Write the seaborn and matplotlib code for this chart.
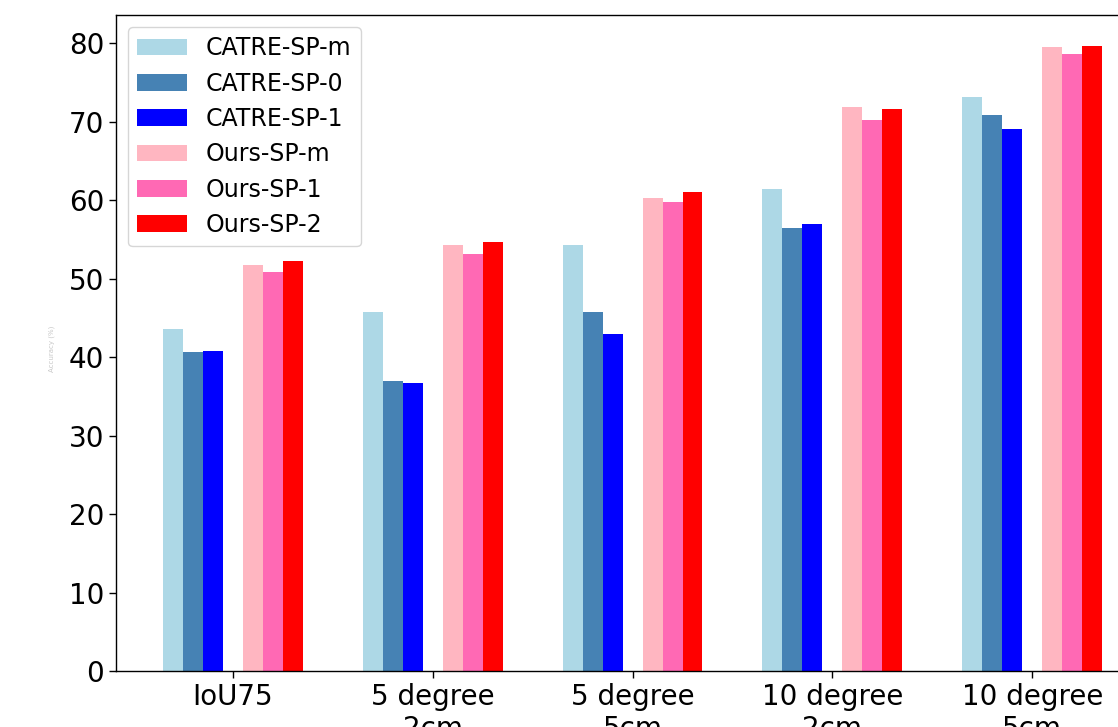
import numpy as np
import pandas as pd
import matplotlib
matplotlib.use("Agg")
import matplotlib.pyplot as plt
import seaborn as sns

# Metric groups along the x axis
metrics = ["IoU75", "5 degree\n2cm", "5 degree\n5cm", "10 degree\n2cm", "10 degree\n5cm"]

# Method names and their accuracy per metric
methods = ["CATRE-SP-m", "CATRE-SP-0", "CATRE-SP-1", "Ours-SP-m", "Ours-SP-1", "Ours-SP-2"]
catre_sp_m = [43.6, 45.8, 54.3, 61.4, 73.1]
catre_sp_0 = [40.6, 37.0, 45.8, 56.5, 70.8]
catre_sp_1 = [40.8, 36.7, 43.0, 57.0, 69.1]
ours_sp_m = [51.8, 54.3, 60.3, 71.9, 79.5]
ours_sp_1 = [50.9, 53.1, 59.8, 70.2, 78.6]
ours_sp_2 = [52.2, 54.7, 61.0, 71.6, 79.6]

colors = ["lightblue", "steelblue", "blue", "lightpink", "hotpink", "red"]

series = [catre_sp_m, catre_sp_0, catre_sp_1, ours_sp_m, ours_sp_1, ours_sp_2]
bar_w = 0.1
# CATRE bars on the left of each tick, ours on the right, one empty slot between
offsets = np.array([-3, -2, -1, 1, 2, 3]) * bar_w

rows = []
for name, vals, off in zip(methods, series, offsets):
    for i, v in enumerate(vals):
        rows.append({"pos": round(i + off, 3), "value": v, "method": name})
df = pd.DataFrame(rows)

sns.set_style("ticks")
plt.rcParams.update({
    "axes.edgecolor": "black",
    "xtick.color": "black",
    "ytick.color": "black",
    "text.color": "black",
    "axes.labelcolor": "black",
    "axes.linewidth": 1.0,
    "font.family": ["DejaVu Sans"],
})

fig = plt.figure(figsize=(11.18, 7.27), dpi=100)
ax = fig.add_axes([0.1038, 0.0770, 0.924, 0.9024])

sns.barplot(
    data=df, x="pos", y="value", hue="method", hue_order=methods,
    palette=dict(zip(methods, colors)), native_scale=True, dodge=False,
    width=1.0, saturation=1, linewidth=0, errorbar=None, ax=ax,
)

ax.set_xticks(range(len(metrics)))
ax.set_xticklabels(metrics, fontsize=20)
ax.tick_params(axis="y", labelsize=20)
ax.tick_params(axis="both", length=5, width=1)
ax.set_xlim(-0.585, 4.585)
ax.set_ylim(0, 83.6)
ax.set_yticks(range(0, 81, 10))
ax.set_xlabel("")
ax.set_ylabel("")

fig.text(52 / 1118, 0.52, "Accuracy (%)", rotation=90, fontsize=5,
         color="#c8c8c8", ha="center", va="center")

handles, labels = ax.get_legend_handles_labels()
leg = ax.legend(handles, labels, loc="upper left", fontsize=17, frameon=True,
                fancybox=True, framealpha=0.8, edgecolor="0.8",
                handlelength=2.1, handleheight=0.72, borderpad=0.4,
                labelspacing=0.48, handletextpad=0.8)
for t in leg.get_texts():
    t.set_color("black")

fig.savefig("out.png", dpi=100)
